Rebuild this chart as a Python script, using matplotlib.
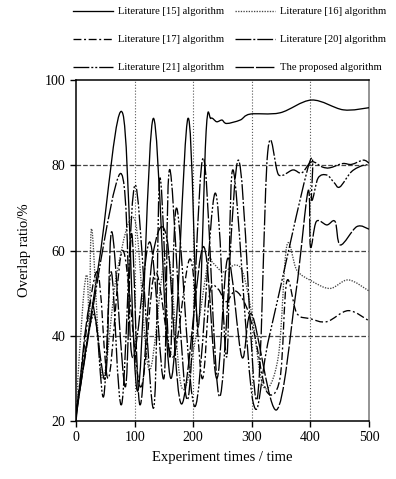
import matplotlib
matplotlib.use('Agg')
import matplotlib.pyplot as plt
from matplotlib.path import Path
from matplotlib.patches import PathPatch
from matplotlib.lines import Line2D

plt.rcParams['font.family'] = ['Liberation Serif', 'DejaVu Serif']

# Literature [15] algorithm (solid, top curve)
x15 = [0, 40, 80, 105, 132, 162, 191, 208, 222, 230, 240, 249, 257, 280, 297, 348, 402, 456, 500]
y15 = [21, 58, 92, 27, 91, 30, 91, 42, 88, 91, 90.2, 90.6, 89.8, 90.6, 92, 92.3, 95.3, 93, 93.5]

# Literature [16] algorithm (dotted)
x16 = [0, 12, 19, 23, 27, 45, 70, 100.7, 125, 155, 180, 205, 225, 234, 251, 271, 285, 300,
       320, 345, 359.5, 376.6, 400, 433, 464.7, 500]
y16 = [23, 48, 54, 42, 65, 30, 55, 67, 32, 60, 28, 40, 57, 57, 55, 56.6, 54.7, 45,
       28, 35, 61, 55.4, 53, 51.1, 53.1, 50.5]

# Literature [17] algorithm
x17 = [0, 35, 55, 80, 110, 135, 165, 195, 215, 228, 242, 256, 272, 290, 305, 325, 348,
       359.5, 376.6, 400, 427.8, 464.7, 500]
y17 = [22, 55, 30, 60, 28, 55, 35, 58, 30, 50, 51, 48, 50.5, 47, 40, 27, 30,
       52.7, 45.3, 44, 43.3, 45.9, 43.5]

# Literature [20] algorithm
x20 = [0, 75, 96, 126, 150, 160, 190, 217, 245, 277, 308, 327, 346, 370, 385, 402,
       420, 433, 455, 470, 490, 500]
y20 = [22, 78, 35, 62, 30, 79, 25, 81.7, 25.7, 81.2, 24.9, 83, 77.7, 78.9, 78.2, 80.8,
       79.6, 79.4, 80.4, 80.2, 81.2, 80.5]

# Literature [21] algorithm
x21 = [0, 30, 47, 60, 78, 101, 132, 143, 160, 172, 203, 237, 257, 268, 302, 330, 398, 402,
       413, 428, 440, 450, 470, 490, 500]
y21 = [22, 45, 25.7, 55, 24, 75.4, 23, 77, 35, 69.9, 23.4, 73.4, 35, 78.9, 24.5, 40, 80.5, 71.8,
       77, 77.7, 76, 74.9, 78.5, 80, 80]

# The proposed algorithm
xp = [0, 25, 50, 61, 84, 95, 109, 130, 155, 180, 217, 240, 259, 283, 300, 342, 375, 396, 400,
      410, 428, 442, 451, 479, 500]
yp = [20, 48, 30, 64.4, 28, 64, 23.8, 58, 62.9, 24, 60.9, 30, 58.2, 35, 45, 22.6, 50, 74, 60.8,
      66.8, 66, 66.8, 61.3, 65.6, 65]

xticks = [0, 100, 200, 300, 400, 500]
yticks = [20, 40, 60, 80, 100]


def spline_path(xs, ys):
    # Catmull-Rom curve through the points, as cubic bezier segments
    pts = list(zip(xs, ys))
    ext = [pts[0]] + pts + [pts[-1]]
    verts = [pts[0]]
    codes = [Path.MOVETO]
    for i in range(1, len(ext) - 2):
        p0, p1, p2, p3 = ext[i - 1], ext[i], ext[i + 1], ext[i + 2]
        c1 = (p1[0] + (p2[0] - p0[0]) / 6, p1[1] + (p2[1] - p0[1]) / 6)
        c2 = (p2[0] - (p3[0] - p1[0]) / 6, p2[1] - (p3[1] - p1[1]) / 6)
        verts += [c1, c2, p2]
        codes += [Path.CURVE4] * 3
    return Path(verts, codes)


fig = plt.figure(figsize=(3.96, 4.79), dpi=100)
ax = fig.add_axes([0.192, 0.121, 0.740, 0.712])

lw = 0.95
series = [
    (x15, y15, 'black', '-', 'Literature [15] algorithm'),
    (x16, y16, '#444444', (0, (1, 1)), 'Literature [16] algorithm'),
    (x17, y17, 'black', (0, (6, 2, 1.5, 2)), 'Literature [17] algorithm'),
    (x20, y20, 'black', (0, (12, 1.5, 1.5, 1.5)), 'Literature [20] algorithm'),
    (x21, y21, 'black', (0, (12, 1.5, 1.5, 1.5, 1.5, 1.5)), 'Literature [21] algorithm'),
    (xp, yp, 'black', (0, (14, 1.5)), 'The proposed algorithm'),
]

handles = {}
for xs, ys, col, ls, lab in series:
    patch = PathPatch(spline_path(xs, ys), fill=False, edgecolor=col, lw=lw,
                      linestyle=ls, transform=ax.transData, zorder=3)
    patch.set_clip_path(ax.patch)
    ax.add_patch(patch)
    handles[lab] = Line2D([], [], color=col, lw=lw, linestyle=ls)

ax.set_xlim(0, 500)
ax.set_ylim(20, 100)
ax.set_xticks(xticks)
ax.set_yticks(yticks)
ax.tick_params(direction='out', length=4, width=1, labelsize=10)

for v in [100, 200, 300, 400]:
    ax.axvline(v, color='#555555', lw=0.8, linestyle=':', zorder=0)
for v in [40, 60, 80]:
    ax.axhline(v, color='#444444', lw=0.9, linestyle='--', zorder=0)

for s in ax.spines.values():
    s.set_linewidth(1.1)
ax.spines['right'].set_color('#777777')

ax.set_xlabel('Experiment times / time', fontsize=10.5, labelpad=5)
ax.set_ylabel('Overlap ratio/%', fontsize=10.5, labelpad=10)

# column-first ordering so rows read 15/16, 17/20, 21/proposed
order = ['Literature [15] algorithm', 'Literature [17] algorithm', 'Literature [21] algorithm',
         'Literature [16] algorithm', 'Literature [20] algorithm', 'The proposed algorithm']
fig.legend(handles=[handles[k] for k in order], labels=order, ncol=2,
           loc='upper left', bbox_to_anchor=(0.16, 1.005), frameon=False,
           fontsize=7.6, handlelength=3.8, handletextpad=0.5,
           columnspacing=1.0, labelspacing=1.75)

fig.savefig('out.png', dpi=100)
